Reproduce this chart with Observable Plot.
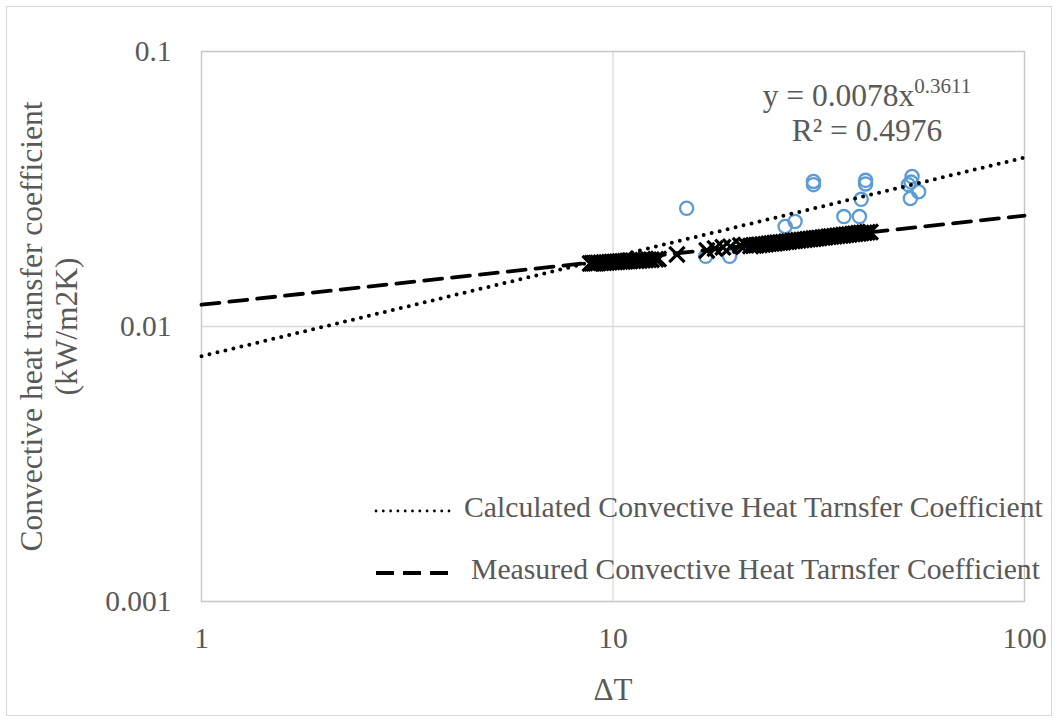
<!DOCTYPE html>
<html>
<head>
<meta charset="utf-8">
<script src="https://cdn.jsdelivr.net/npm/d3@7"></script>
<script src="https://cdn.jsdelivr.net/npm/@observablehq/plot@0.6"></script>
<style>
  body { margin: 0; background: #fff; }
  #wrap { position: relative; width: 1058px; height: 722px; font-family: "Liberation Serif", "Times New Roman", serif; color: #595959; }
  #border { position: absolute; left: 6px; top: 6px; width: 1046px; height: 710px; border: 1px solid #d9d9d9; box-sizing: border-box; pointer-events: none; }
  .lbl { position: absolute; font-size: 29.7px; line-height: 34px; white-space: nowrap; }
  .eq { position: absolute; left: 667px; width: 400px; text-align: center; font-size: 31.5px; line-height: 36px; white-space: nowrap; }
  .sup { font-size: 21px; position: relative; top: -13px; }
  .sw { position: absolute; }
</style>
</head>
<body>
<div id="wrap">
  <div id="chart"></div>
  <div id="border"></div>
</div>
<script>
// ---- Data ----
const xTicks = [1, 10, 100];
const xTickLabels = ["1", "10", "100"];
const yTicks = [0.001, 0.01, 0.1];
const yTickLabels = ["0.001", "0.01", "0.1"];

const xTitle = "ΔT";
const yTitle = "Convective heat transfer coefficient\n(kW/m2K)";

// Calculated coefficient (open circles)
const calcDT = [15.1, 16.8, 19.2, 26.2, 27.7, 30.7, 30.7, 36.4, 39.7, 40.1, 41.1, 41.1, 52.2, 52.8, 53.3, 53.0, 55.3];
const calcH  = [0.0269, 0.0180, 0.0180, 0.0231, 0.0241, 0.0337, 0.0328, 0.0251, 0.0251, 0.0290, 0.0340, 0.0330, 0.0328, 0.0292, 0.0351, 0.0335, 0.0309];

// Measured coefficient (x markers)
const measDT = [
  8.8, 8.9, 9.0, 9.1, 9.2, 9.35, 9.5, 9.65, 9.8, 9.95, 10.1, 10.25, 10.4, 10.55, 10.7, 10.85,
  11.0, 11.2, 11.4, 11.6, 11.8, 12.0, 12.2, 12.4, 12.7, 12.9,
  14.3, 16.9, 17.7, 18.5, 19.3, 20.4, 21.0,
  21.6, 22.0, 22.3, 22.7, 23.1, 23.5, 23.9, 24.3, 24.7, 25.1, 25.5, 25.9, 26.4, 26.8, 27.3, 27.7,
  28.2, 28.7, 29.2, 29.7, 30.2, 30.7, 31.2, 31.7, 32.3, 32.8, 33.4, 33.9, 34.5, 35.1, 35.7, 36.3,
  36.9, 37.5, 38.2, 38.8, 39.5, 40.1, 40.8, 41.5, 42.2
];
const measH = [
  0.01695, 0.01697, 0.01699, 0.01700, 0.01702, 0.01705, 0.01707, 0.01710, 0.01712, 0.01715, 0.01717, 0.01719, 0.01722, 0.01724, 0.01726, 0.01729,
  0.01731, 0.01734, 0.01736, 0.01739, 0.01742, 0.01745, 0.01748, 0.01750, 0.01755, 0.01760,
  0.01828, 0.0189, 0.0192, 0.0194, 0.0195, 0.0197, 0.0198,
  0.01963, 0.01969, 0.01974, 0.01980, 0.01986, 0.01992, 0.01998, 0.02004, 0.02010, 0.02015, 0.02021, 0.02026, 0.02033, 0.02038, 0.02045, 0.02050,
  0.02057, 0.02063, 0.02069, 0.02075, 0.02082, 0.02087, 0.02093, 0.02099, 0.02106, 0.02112, 0.02119, 0.02124, 0.02130, 0.02137, 0.02143, 0.02149,
  0.02155, 0.02161, 0.02168, 0.02174, 0.02181, 0.02187, 0.02193, 0.02200, 0.02206
];

// Trendlines (power law y = a x^b)
const calcCoef = 0.0078, calcExp = 0.3611;   // shown equation
const measCoef = 0.0120, measExp = 0.162;
const trendRange = [1, 100];

const legendLabels = ["Calculated Convective Heat Tarnsfer Coefficient", "Measured Convective Heat Tarnsfer Coefficient"];
const eqLine1 = "y = 0.0078x";
const eqSup = "0.3611";
const eqLine2 = "R² = 0.4976";

// ---- Build ----
const calcPts = calcDT.map((x, i) => ({x, y: calcH[i]}));
const measPts = measDT.map((x, i) => ({x, y: measH[i]}));
const calcTrend = trendRange.map(x => ({x, y: calcCoef * Math.pow(x, calcExp)}));
const measTrend = trendRange.map(x => ({x, y: measCoef * Math.pow(x, measExp)}));

const chart = Plot.plot({
  width: 1058,
  height: 722,
  marginLeft: 201,
  marginRight: 34,
  marginTop: 51,
  marginBottom: 121,
  style: { fontFamily: "Liberation Serif, Times New Roman, serif", fontSize: "29px", color: "#595959", background: "transparent" },
  x: { type: "log", domain: [1, 100] },
  y: { type: "log", domain: [0.001, 0.1] },
  marks: [
    Plot.gridX(xTicks, { stroke: "#d9d9d9", strokeOpacity: 1, strokeWidth: 1.3 }),
    Plot.gridY(yTicks, { stroke: "#d9d9d9", strokeOpacity: 1, strokeWidth: 1.3 }),
    Plot.frame({ stroke: "#c8c8c8", strokeWidth: 1.3 }),
    Plot.axisX(xTicks, { tickSize: 0, tickPadding: 26, tickFormat: d => xTickLabels[xTicks.indexOf(d)], label: null, fill: "#595959", fontSize: 29.5 }),
    Plot.axisY(yTicks, { tickSize: 0, tickPadding: 30, tickFormat: d => yTickLabels[yTicks.indexOf(d)], label: null, fill: "#595959", fontSize: 29.5 }),
    Plot.dot(calcPts, { x: "x", y: "y", r: 6.6, stroke: "#5B9BD5", strokeWidth: 2.3, fill: "none" }),
    Plot.dot(measPts, { x: "x", y: "y", symbol: "times", r: 7, stroke: "#000", strokeWidth: 3.2 }),
    Plot.line(calcTrend, { x: "x", y: "y", stroke: "#000", strokeWidth: 4, strokeDasharray: "0,8.2", strokeLinecap: "round" }),
    Plot.line(measTrend, { x: "x", y: "y", stroke: "#000", strokeWidth: 3.8, strokeDasharray: "18,10" }),
    Plot.text([yTitle], { frameAnchor: "left", rotate: -90, dx: -153, textAnchor: "middle", lineAnchor: "middle", lineHeight: 1.1, fill: "#595959", fontSize: 31.5 }),
    Plot.text([xTitle], { frameAnchor: "bottom", dy: 89, lineAnchor: "middle", fill: "#595959", fontSize: 31 })
  ]
});
document.getElementById("chart").appendChild(chart);

// ---- Equation & legend overlay ----
const wrap = document.getElementById("wrap");
function addDiv(cls, style, html) {
  const d = document.createElement("div");
  d.className = cls;
  Object.assign(d.style, style);
  d.innerHTML = html;
  wrap.appendChild(d);
  return d;
}
addDiv("eq", { top: "78px" }, eqLine1 + '<span class="sup">' + eqSup + '</span>');
addDiv("eq", { top: "113px" }, eqLine2);

const swatches = [
  { dash: "0,7.3", width: 2.8, cap: "round", cy: 507, tx: 464 },
  { dash: "18,9", width: 3.8, cap: "butt", cy: 569, tx: 471 }
];
swatches.forEach((s, i) => {
  addDiv("sw", { left: "374px", top: (s.cy - 5) + "px" },
    `<svg width="84" height="10"><line x1="2" y1="5" x2="80" y2="5" stroke="#000" stroke-width="${s.width}" stroke-dasharray="${s.dash}" stroke-linecap="${s.cap}"/></svg>`);
  addDiv("lbl", { left: s.tx + "px", top: (s.cy - 17) + "px" }, legendLabels[i]);
});
</script>
</body>
</html>
